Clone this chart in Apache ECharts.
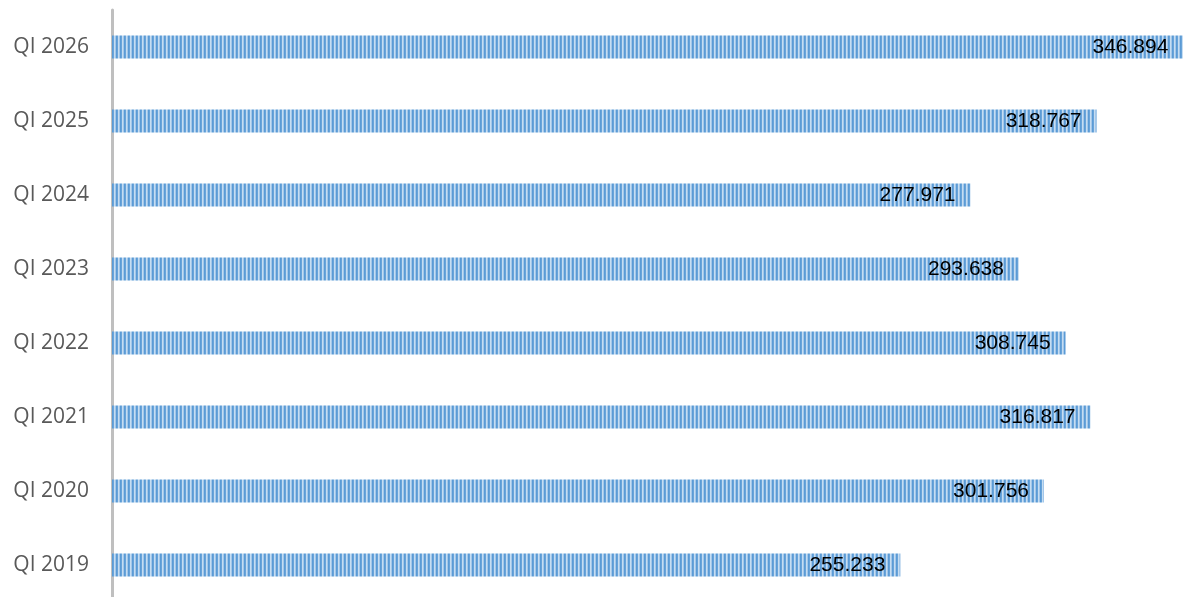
<!DOCTYPE html>
<html lang="en">
<head>
    <meta charset="UTF-8">
    <title>QI bars</title>
    <script src="https://cdn.jsdelivr.net/npm/echarts@6/dist/echarts.min.js"></script>
    <style>
        html, body { margin: 0; padding: 0; background: #fff; }
    </style>
</head>
<body>
    <div id="main" style="width: 1183px; height: 597px;"></div>
    <script>
        const categories = ['QI 2019', 'QI 2020', 'QI 2021', 'QI 2022', 'QI 2023', 'QI 2024', 'QI 2025', 'QI 2026'];
        const values = [255.233, 301.756, 316.817, 308.745, 293.638, 277.971, 318.767, 346.894];

        // vertical stripe fill like the original
        function stripePattern() {
            const c = document.createElement('canvas');
            c.width = 4;
            c.height = 4;
            const ctx = c.getContext('2d');
            const cols = ['#5b9bd5', '#6aa4da', '#c6ddf1', '#a3c7ea'];
            cols.forEach((col, i) => {
                ctx.fillStyle = col;
                ctx.fillRect(i, 0, 1, 4);
            });
            return c;
        }

        const option = {
            animation: false,
            grid: { left: 112, top: 10, width: 1081, height: 592, containLabel: false, outerBoundsMode: 'none' },
            xAxis: {
                type: 'value',
                min: 0,
                max: 350,
                show: false
            },
            yAxis: {
                type: 'category',
                data: categories,
                axisLine: { show: true, lineStyle: { color: '#bfbfbf', width: 3 } },
                axisTick: { show: false },
                axisLabel: {
                    color: '#595959',
                    fontSize: 21,
                    fontFamily: 'Open Sans',
                    margin: 23
                }
            },
            series: [{
                type: 'bar',
                data: values,
                barWidth: 23,
                itemStyle: { color: { image: stripePattern(), repeat: 'repeat' } },
                label: {
                    show: true,
                    position: 'insideRight',
                    distance: 15,
                    color: '#000',
                    fontSize: 21,
                    fontFamily: 'Liberation Sans',
                    formatter: p => p.value.toFixed(3)
                }
            }]
        };

        const chart = echarts.init(document.getElementById('main'));
        chart.setOption(option);
    </script>
</body>
</html>
